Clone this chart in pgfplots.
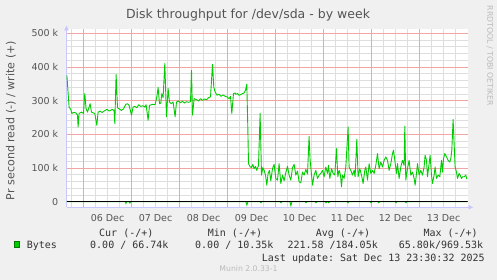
\documentclass[border=0pt]{standalone}
\usepackage{pgfplots}
\pgfplotsset{compat=1.18}
\usepackage{fontspec}
\setmainfont{DejaVu Sans}
\setmonofont{DejaVu Sans Mono}
\usetikzlibrary{arrows.meta}
\definecolor{bgc}{HTML}{F0F0F0}
\definecolor{mgrid}{RGB}{242,165,165}
\definecolor{ngrid}{RGB}{222,222,222}
\definecolor{axc}{RGB}{200,200,255}
\definecolor{lineg}{HTML}{00CC00}
\definecolor{txt}{HTML}{555555}
\definecolor{legt}{HTML}{333333}
\definecolor{wm}{HTML}{BBBBBB}
\begin{document}
\begin{tikzpicture}[x=1pt,y=1pt]
\fill[bgc] (0,0) rectangle (497,280);
\begin{axis}[
  at={(66.5pt,72.7pt)}, anchor=south west,
  scale only axis, width=401pt, height=178pt,
  xmin=-8.5, xmax=192, ymin=-16.6, ymax=511.9,
  axis background/.style={fill=white},
  axis lines=left,
  x axis line style={draw=axc, line width=0.8pt, -{Latex[length=5pt,width=5pt]}, shorten >=-6pt},
  y axis line style={draw=axc, line width=0.8pt, -{Latex[length=5pt,width=5pt]}, shorten >=-4pt},
  tick style={draw=none},
  xtick={12,36,60,84,108,132,156,180},
  xticklabels={06 Dec,07 Dec,08 Dec,09 Dec,10 Dec,11 Dec,12 Dec,13 Dec},
  minor xtick={-6,6,12,18,30,36,42,54,60,66,78,84,90,102,108,114,126,132,138,150,156,162,174,180,186},
  ytick={0,100,200,300,400,500},
  yticklabels={0,100 k,200 k,300 k,400 k,500 k},
  minor y tick num=4,
  xmajorgrids=false, xminorgrids=true, ymajorgrids=true, yminorgrids=true,
  major grid style={draw=mgrid, line width=0.8pt},
  minor grid style={draw=ngrid, line width=0.8pt},
  xticklabel style={font=\fontsize{9.5}{11}\selectfont, text=txt, anchor=base, inner sep=0pt, yshift=-12pt},
  yticklabel style={font=\fontsize{9.5}{11}\selectfont, text=txt, anchor=east, inner sep=0pt, xshift=-6pt},
  clip=true,
]
\addplot[mgrid, line width=0.8pt, forget plot] coordinates {(0,-16.6)(0,511.9)};
\addplot[mgrid, line width=0.8pt, forget plot] coordinates {(24,-16.6)(24,511.9)};
\addplot[mgrid, line width=0.8pt, forget plot] coordinates {(48,-16.6)(48,511.9)};
\addplot[mgrid, line width=0.8pt, forget plot] coordinates {(72,-16.6)(72,511.9)};
\addplot[mgrid, line width=0.8pt, forget plot] coordinates {(96,-16.6)(96,511.9)};
\addplot[mgrid, line width=0.8pt, forget plot] coordinates {(120,-16.6)(120,511.9)};
\addplot[mgrid, line width=0.8pt, forget plot] coordinates {(144,-16.6)(144,511.9)};
\addplot[mgrid, line width=0.8pt, forget plot] coordinates {(168,-16.6)(168,511.9)};
\addplot[lineg, line width=0.9pt, line join=round] coordinates {
(-8.3,375)(-7.2,281)(-6.35,274)(-5.85,262)(-5.0,265)(-3.85,264)(-3.0,257)(-2.7,222)(-2.2,262)(-1.0,266)
(0,262)(0.65,321)(1.3,276)(2.0,266)(2.8,281)(3.3,291)(4.0,266)(4.8,264)(5.65,262)(6.65,227)
(7.3,266)(8.3,269)(9.3,265)(10.3,269)(11.65,274)(13.0,269)(14.3,274)(15.3,271)(15.65,232)(16.3,378)
(17.0,279)(18.0,275)(19.0,271)(20.0,276)(21.15,289)(22.0,291)(22.8,286)(24.0,257)(24.8,281)(25.65,283)
(26.65,279)(27.65,288)(28.65,283)(29.65,285)(30.65,281)(31.3,288)(32.3,242)(33.0,286)(34.5,289)(35.8,288)
(36.65,311)(37.3,339)(38.0,291)(38.65,293)(39.15,321)(39.8,309)(40.65,410)(41.5,252)(42.3,336)(43.0,296)
(43.8,291)(44.8,296)(45.8,252)(46.5,296)(47.5,299)(48.5,294)(49.5,298)(50.5,293)(51.5,297)(52.5,295)
(53.5,297)(54.0,390)(54.5,257)(55.3,306)(56.5,303)(57.5,299)(58.5,306)(59.5,301)(60.5,305)(61.5,303)
(62.5,309)(63.5,311)(64.5,408)(65.15,340)(65.8,326)(66.8,316)(67.8,319)(68.8,313)(69.8,317)(70.8,313)
(71.8,311)(72.8,306)(73.5,313)(74.15,262)(75.0,321)(75.8,323)(76.15,319)(77.0,321)(77.8,316)(78.65,318)
(79.5,321)(80.3,323)(81.0,331)(81.65,349)(82.15,222)(82.5,113)(83.15,105)(84.0,101)(84.65,111)(85.3,98)
(86.0,105)(86.65,93)(87.5,108)(88.3,262)(89.0,79)(89.65,101)(90.3,93)(91.0,79)(91.65,49)(92.3,84)
(93.0,93)(93.65,62)(94.5,98)(95.3,111)(96.15,69)(97.0,64)(97.8,113)(98.65,54)(99.5,79)(100.3,62)
(101.15,86)(102.0,105)(102.8,79)(103.65,64)(104.5,101)(105.3,111)(106.15,79)(107.0,91)(107.8,59)(108.65,56)
(109.5,88)(110.3,79)(111.15,96)(112.0,82)(112.8,194)(113.3,123)(113.8,93)(114.5,49)(115.3,79)(116.15,93)
(117.0,69)(117.8,79)(118.65,84)(119.5,93)(120.3,74)(121.15,103)(122.0,84)(122.5,108)(123.15,69)(124.0,98)
(124.8,84)(125.65,79)(126.5,158)(127.15,74)(127.8,93)(128.5,79)(129.0,44)(129.5,79)(130.3,69)(131.15,103)
(132.3,222)(132.8,103)(133.65,93)(134.5,79)(135.3,93)(135.8,74)(136.65,185)(137.3,74)(138.15,98)(139.0,79)
(139.8,54)(140.65,93)(141.15,103)(142.0,64)(142.8,113)(143.65,84)(144.5,93)(145.3,84)(146.15,108)(147.0,143)
(147.8,98)(148.65,118)(149.5,103)(150.3,123)(151.15,133)(152.0,123)(152.8,93)(153.65,113)(154.5,143)(155.0,153)
(155.65,123)(156.5,84)(157.0,113)(157.8,69)(158.65,103)(159.5,123)(160.3,108)(160.65,224)(161.15,64)(162.0,98)
(162.8,123)(163.65,79)(164.5,88)(165.3,69)(165.8,49)(166.5,84)(167.0,113)(167.8,79)(168.65,93)(169.5,79)
(170.3,103)(170.8,138)(171.5,123)(172.0,74)(172.8,113)(173.3,138)(174.0,79)(174.5,54)(175.3,79)(175.8,103)
(176.5,69)(177.3,79)(178.15,74)(179.0,123)(179.5,88)(180.0,128)(180.65,143)(181.5,133)(182.3,123)(183.15,118)
(183.65,128)(184.15,153)(184.8,244)(185.3,173)(185.8,103)(186.5,88)(187.0,69)(187.8,84)(188.3,79)(189.0,69)
(189.5,74)(190.3,74)(191.15,79)(191.65,67)
};
\addplot[lineg, line width=0.9pt] coordinates {
(-8.5,0)(21.0,0)(21.2,-5)(21.7,0)(22.7,0)(23.2,-4)(23.7,0)(81.2,0)(81.7,-10)(82.2,0)
(88.2,0)(88.7,-3)(89.2,0)(98.2,0)(98.7,-3)(99.2,0)(103.2,0)(103.7,-12)(104.2,0)
(110.7,0)(111.2,-3)(111.7,0)(115.7,0)(116.2,-3)(116.7,0)(120.7,0)(121.2,-3)(121.7,0)
(122.1,0)(122.6,-3)(123.1,0)(131.7,0)(132.2,-3)(132.7,0)(143.2,0)(143.7,-3)(144.2,0)
(147.1,0)(147.6,-3)(148.1,0)(155.7,0)(156.2,-3)(156.7,0)(160.7,0)(161.2,-3)(161.7,0)(192,0)
};
\addplot[black, line width=1pt] coordinates {(-8.5,0)(192,0)};
\end{axis}
% title
\node[anchor=base, inner sep=0pt, text=txt, font=\fontsize{12.5}{14}\selectfont] at (248,261.7) {Disk throughput for /dev/sda - by week};
% y label
\node[rotate=90, inner sep=0pt, text=txt, font=\fontsize{11.1}{13}\selectfont] at (11,159.5) {Pr second read (-) / write (+)};
% watermark right
\node[rotate=-90, inner sep=0pt, text=wm, font=\fontsize{7.8}{9}\selectfont] at (490,224) {RRDTOOL / TOBI OETIKER};
% legend
\begin{scope}[every node/.style={anchor=base west, inner sep=0pt, text=legt, font=\ttfamily\fontsize{10}{12}\selectfont}]
\node at (99,43.3) {Cur (-/+)};
\node at (207.7,43.3) {Min (-/+)};
\node at (315.7,43.3) {Avg (-/+)};
\node at (423.3,43.3) {Max (-/+)};
\node at (26.7,31) {Bytes};
\node at (90,31) {0.00 / 66.74k};
\node at (195,31) {0.00 / 10.35k};
\node at (287.3,31) {221.58 /184.05k};
\node at (398.7,31) {65.80k/969.53k};
\node at (261.7,18.7) {Last update: Sat Dec 13 23:30:32 2025};
\end{scope}
\fill[lineg, draw=lineg!60!black, line width=0.3pt] (14,33) rectangle (19.5,38.5);
\node[anchor=base, inner sep=0pt, text=wm, font=\fontsize{7.7}{9}\selectfont] at (248.5,8) {Munin 2.0.33-1};
\pgfresetboundingbox
\path[use as bounding box] (0,0) rectangle (497,280);
\end{tikzpicture}
\end{document}
